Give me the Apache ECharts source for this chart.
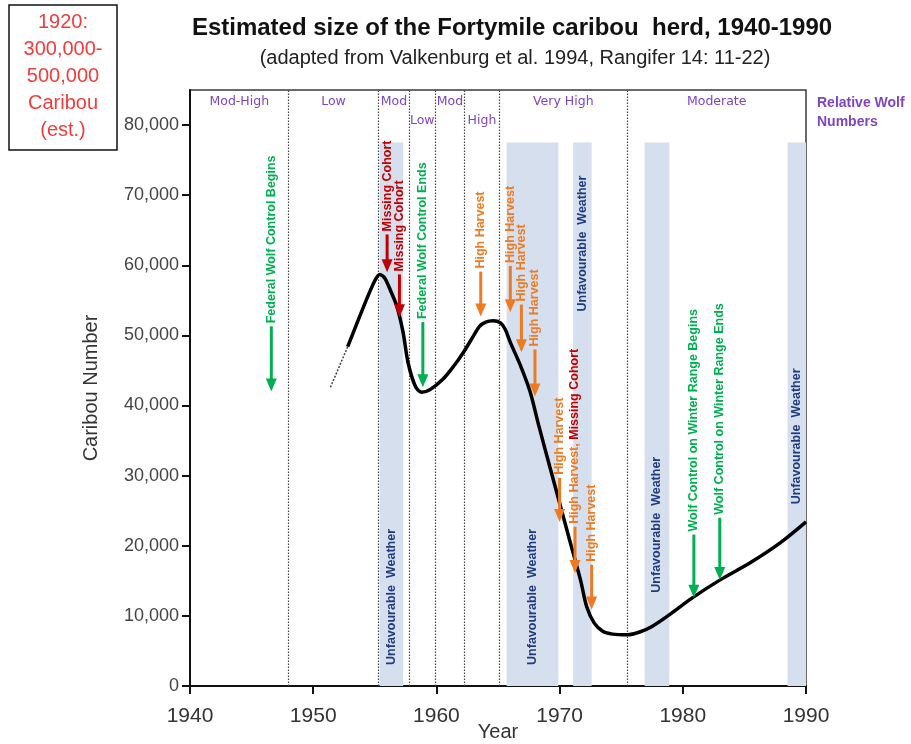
<!DOCTYPE html>
<html><head><meta charset="utf-8">
<script src="https://cdn.jsdelivr.net/npm/echarts@6/dist/echarts.min.js"></script>
<style>html,body{margin:0;padding:0;background:#fff}#c{width:911px;height:744px}</style>
</head><body><div id="c"></div>
<script>
// ---------- data ----------
const yearTicks = [1940, 1950, 1960, 1970, 1980, 1990];
const valueTicks = [0, 10000, 20000, 30000, 40000, 50000, 60000, 70000, 80000];

const curveYears = [1952.8, 1953.5, 1954.3, 1955.0, 1955.4, 1955.8, 1956.3, 1956.8, 1957.3, 1957.7, 1958.3, 1958.8, 1959.5, 1960.5, 1961.4, 1962.2, 1963.0, 1963.5, 1964.0, 1964.6, 1965.2, 1965.6, 1966.0, 1966.8, 1967.6, 1968.3, 1969.2, 1970.0, 1970.8, 1971.7, 1972.2, 1972.8, 1973.5, 1974.3, 1975.5, 1976.5, 1977.5, 1978.7, 1980.8, 1983.0, 1985.5, 1987.9, 1990.0];
const curveValues = [48400, 51500, 55000, 57800, 58700, 58200, 56300, 54100, 50400, 46100, 42700, 41900, 42300, 43700, 45600, 47600, 49900, 51300, 51900, 52100, 51800, 50800, 49000, 45800, 42000, 37200, 31300, 26100, 20900, 15100, 11300, 9000, 7800, 7400, 7300, 7700, 8500, 9900, 12600, 15100, 17600, 20400, 23400];

const dashedYears = [1951.4, 1952.8];
const dashedValues = [42600, 48400];

const periodBoundaries = [1948, 1955.3, 1957.8, 1959.9, 1962.3, 1965.1, 1975.5];
const wolfStart = [1940, 1948, 1955.3, 1957.8, 1959.9, 1962.3, 1965.1, 1975.5];
const wolfEnd = [1948, 1955.3, 1957.8, 1959.9, 1962.3, 1965.1, 1975.5, 1990];
const wolfLevels = ['Mod-High', 'Low', 'Mod', 'Low', 'Mod', 'High', 'Very High', 'Moderate'];
const wolfRow = [0, 0, 0, 1, 0, 1, 0, 0];

const weatherStart = [1955.4, 1965.7, 1971.1, 1976.9, 1988.5];
const weatherEnd = [1957.3, 1969.9, 1972.6, 1978.9, 1990];
const weatherTop = [77500, 77500, 77500, 77500, 77500];
const weatherLabelAt = [12700, 12700, 63100, 23000, 35600];
const weatherLabel = 'Unfavourable  Weather';

const eventYears = [1946.6, 1956.0, 1957.0, 1958.9, 1963.6, 1966.0, 1966.9, 1968.0, 1970.0, 1971.25, 1972.6, 1980.9, 1983.0];
const eventFrom = [51300, 64400, 58700, 51900, 59100, 59900, 54400, 48000, 29700, 22700, 17300, 21600, 24000];
const eventTo = [42000, 59000, 52600, 42600, 52700, 53300, 47600, 41300, 23400, 16100, 10900, 12600, 15100];
const eventLabels = ['Federal Wolf Control Begins', 'Missing Cohort', 'Missing Cohort', 'Federal Wolf Control Ends',
  'High Harvest', 'High Harvest', 'High Harvest', 'High Harvest', 'High Harvest', 'High Harvest, |Missing Cohort', 'High Harvest',
  'Wolf Control on Winter Range Begins', 'Wolf Control on Winter Range Ends'];
const eventKinds = ['wolf', 'cohort', 'cohort', 'wolf', 'harvest', 'harvest', 'harvest', 'harvest', 'harvest', 'harvest', 'harvest', 'wolf', 'wolf'];

// ---------- styles ----------
const KIND_COLOR = { wolf: '#00B050', cohort: '#C00000', harvest: '#EE7B22' };
const PURPLE = '#7E45BF';
const BAND = '#D5DFEE';
const NAVY = '#1F3A80';
const FONT = '"Liberation Sans", Arial, sans-serif';
const EVFONT = 'bold 12.5px ' + FONT;
const YMAX = 85000;

const chart = echarts.init(document.getElementById('c'), null, { renderer: 'canvas' });

const curveData = curveYears.map((y, i) => [y, curveValues[i]]);
const dashedData = dashedYears.map((y, i) => [y, dashedValues[i]]);
const wolfData = wolfLevels.map((l, i) => [wolfStart[i], wolfEnd[i], wolfRow[i]]);
const weatherData = weatherStart.map((s, i) => [s, weatherEnd[i], weatherTop[i], weatherLabelAt[i]]);
const eventData = eventYears.map((y, i) => [y, eventFrom[i], eventTo[i]]);

const option = {
  animation: false,
  grid: { left: 190, right: 105, top: 90, bottom: 58, outerBoundsMode: 'none', containLabel: false,
    show: true, borderColor: '#3a3a3a', borderWidth: 1.5, backgroundColor: 'transparent' },
  xAxis: {
    type: 'value', min: 1940, max: 1990, interval: 10,
    name: 'Year', nameLocation: 'middle', nameGap: 36, nameMoveOverlap: false,
    nameTextStyle: { fontFamily: FONT, fontSize: 20, color: '#333' },
    axisLine: { lineStyle: { color: '#111', width: 2 } },
    axisTick: { show: true, length: 8, lineStyle: { color: '#111', width: 2 }, customValues: yearTicks },
    axisLabel: { fontFamily: FONT, fontSize: 21, color: '#333', margin: 20, customValues: yearTicks,
      formatter: v => String(v) },
    splitLine: { show: false }
  },
  yAxis: {
    type: 'value', min: 0, max: YMAX, interval: 10000,
    name: 'Caribou Number', nameLocation: 'middle', nameGap: 89, nameRotate: 90, nameMoveOverlap: false,
    nameTextStyle: { fontFamily: FONT, fontSize: 20, color: '#333' },
    axisLine: { show: true, lineStyle: { color: '#111', width: 2 } },
    axisTick: { show: true, length: 8, lineStyle: { color: '#111', width: 2 }, customValues: valueTicks },
    axisLabel: { fontFamily: FONT, fontSize: 18, color: '#444', margin: 11, customValues: valueTicks,
      formatter: v => v.toLocaleString('en-US') },
    splitLine: { show: false }
  },
  series: [
    { // weather bands
      type: 'custom', z: 1, silent: true, data: weatherData,
      renderItem: (params, api) => {
        const p0 = api.coord([api.value(0), api.value(2)]);
        const p1 = api.coord([api.value(1), 0]);
        const pc = api.coord([(api.value(0) + api.value(1)) / 2, api.value(3)]);
        return { type: 'group', children: [
          { type: 'rect', shape: { x: p0[0], y: p0[1], width: p1[0] - p0[0], height: p1[1] - p0[1] }, style: { fill: BAND } },
          { type: 'text', x: pc[0], y: pc[1], rotation: Math.PI / 2,
            style: { text: weatherLabel, fill: NAVY, font: 'bold 12.5px ' + FONT, align: 'center', verticalAlign: 'middle' } }
        ] };
      }
    },
    { // wolf-number period labels
      type: 'custom', z: 3, silent: true, data: wolfData,
      renderItem: (params, api) => {
        const p = api.coord([(api.value(0) + api.value(1)) / 2, YMAX]);
        const i = params.dataIndex;
        return { type: 'text', x: p[0], y: p[1] + 12 + api.value(2) * 19,
          style: { text: wolfLevels[i], fill: PURPLE, font: '12.5px "DejaVu Sans", sans-serif', align: 'center', verticalAlign: 'middle' } };
      }
    },
    { // early uncertain trend (dashed) + period boundaries
      type: 'line', data: dashedData, z: 4, symbol: 'none',
      lineStyle: { color: '#444', width: 1.5, type: [2, 1.5] },
      markLine: {
        silent: true, symbol: ['none', 'none'], label: { show: false },
        lineStyle: { type: [1.5, 1.5], color: '#444', width: 1.2 },
        data: periodBoundaries.map(v => ({ xAxis: v }))
      }
    },
    { // herd size
      type: 'line', data: curveData, z: 5, symbol: 'none', smooth: 0.3,
      lineStyle: { color: '#000', width: 3.5 }
    },
    { // event arrows
      type: 'custom', z: 6, silent: true, data: eventData,
      renderItem: (params, api) => {
        const i = params.dataIndex;
        const col = KIND_COLOR[eventKinds[i]];
        const a = api.coord([api.value(0), api.value(1)]);
        const b = api.coord([api.value(0), api.value(2)]);
        const label = eventLabels[i];
        let textStyle;
        if (label.indexOf('|') >= 0) {
          const parts = label.split('|');
          textStyle = { text: '{o|' + parts[0] + '}{r|' + parts[1] + '}',
            rich: { o: { fill: col, font: EVFONT }, r: { fill: KIND_COLOR.cohort, font: EVFONT } },
            align: 'left', verticalAlign: 'middle' };
        } else {
          textStyle = { text: label, fill: col, font: EVFONT, align: 'left', verticalAlign: 'middle' };
        }
        return { type: 'group', children: [
          { type: 'line', shape: { x1: a[0], y1: a[1], x2: b[0], y2: b[1] - 10 }, style: { stroke: col, lineWidth: 3 } },
          { type: 'polygon', shape: { points: [[b[0] - 5.5, b[1] - 13], [b[0] + 5.5, b[1] - 13], [b[0], b[1]]] }, style: { fill: col } },
          { type: 'text', x: a[0], y: a[1] - 3, rotation: Math.PI / 2, style: textStyle }
        ] };
      }
    }
  ],
  graphic: [
    { type: 'rect', z: 100, shape: { x: 9, y: 5, width: 108, height: 145 }, style: { fill: '#fff', stroke: '#111', lineWidth: 1.5 } },
    { type: 'text', z: 101, x: 63, y: 9, style: { text: '1920:\n300,000-\n500,000\nCaribou\n(est.)', fill: '#F23C3C', font: '20px ' + FONT, lineHeight: 27, align: 'center', verticalAlign: 'top' } },
    { type: 'text', z: 101, x: 512, y: 28, style: { text: 'Estimated size of the Fortymile caribou  herd, 1940-1990', fill: '#111', font: 'bold 24px ' + FONT, align: 'center', verticalAlign: 'middle' } },
    { type: 'text', z: 101, x: 515, y: 58, style: { text: '(adapted from Valkenburg et al. 1994, Rangifer 14: 11-22)', fill: '#222', font: '20px ' + FONT, align: 'center', verticalAlign: 'middle' } },
    { type: 'text', z: 101, x: 817, y: 94, style: { text: 'Relative Wolf\nNumbers', fill: PURPLE, font: 'bold 14px ' + FONT, lineHeight: 19, align: 'left', verticalAlign: 'top' } }
  ]
};
chart.setOption(option);
</script>
</body></html>
